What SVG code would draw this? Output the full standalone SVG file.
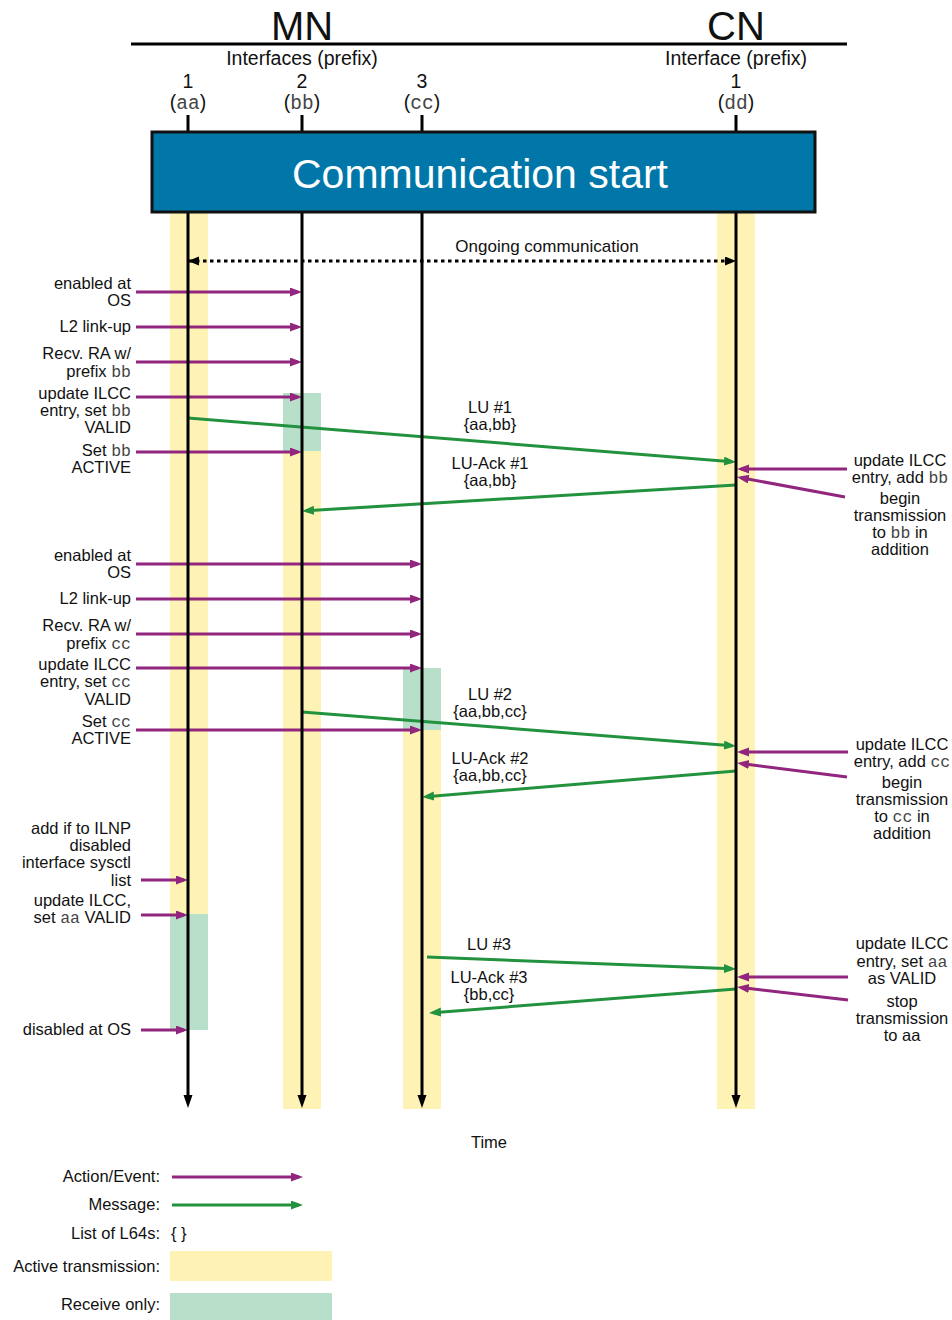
<svg xmlns="http://www.w3.org/2000/svg" width="952" height="1320" viewBox="0 0 952 1320">
  <style>
    .t{font-family:"Liberation Sans",Arial,Helvetica,sans-serif;font-size:16.5px;fill:#111}
    .h{font-size:19.5px}
    .big{font-size:40px}
    .r{text-anchor:end}
    .c{text-anchor:middle}
    .mono{font-family:"Liberation Mono","Courier New",monospace;fill:#444}
    .ev{stroke:#92267f;stroke-width:3;fill:none;marker-end:url(#ahP)}
    .msg{stroke:#22923f;stroke-width:3;fill:none;marker-end:url(#ahG)}
    .life{stroke:#000;stroke-width:3;fill:none;marker-end:url(#ahK)}
    .act{fill:#fef3b4}
    .rcv{fill:#b8dfc9}
  </style>
  <defs>
    <marker id="ahP" markerUnits="userSpaceOnUse" markerWidth="14" markerHeight="10" refX="8" refY="4.5" orient="auto">
      <path d="M0,0 L12,4.5 L0,9 z" fill="#92267f"/>
    </marker>
    <marker id="ahG" markerUnits="userSpaceOnUse" markerWidth="14" markerHeight="10" refX="8" refY="4.5" orient="auto">
      <path d="M0,0 L12,4.5 L0,9 z" fill="#22923f"/>
    </marker>
    <marker id="ahK" markerUnits="userSpaceOnUse" markerWidth="14" markerHeight="10" refX="1" refY="4.5" orient="auto">
      <path d="M0,0 L13,4.5 L0,9 z" fill="#000"/>
    </marker>
    <marker id="ahD" markerUnits="userSpaceOnUse" markerWidth="12" markerHeight="10" refX="10" refY="4.5" orient="auto-start-reverse">
      <path d="M0,0 L11,4.5 L0,9 z" fill="#000"/>
    </marker>
  </defs>

  <rect width="952" height="1320" fill="#fff"/>

  <!-- header: hosts and interfaces -->
  <g id="header">
    <text class="t big c" x="302" y="40">MN</text>
    <text class="t big c" x="736" y="40">CN</text>
    <line x1="131" y1="44" x2="847" y2="44" stroke="#000" stroke-width="3"/>
    <text class="t h c" x="302" y="65">Interfaces (prefix)</text>
    <text class="t h c" x="736" y="65">Interface (prefix)</text>
  </g>

  <!-- activity bands (active transmission / receive only) -->
  <g id="bands">
    <rect class="act" x="170" y="213" width="38" height="701"/>
    <rect class="rcv" x="170" y="914" width="38" height="116"/>
    <rect class="rcv" x="283" y="393" width="38" height="58"/>
    <rect class="act" x="283" y="451" width="38" height="658"/>
    <rect class="rcv" x="403" y="668" width="38" height="62"/>
    <rect class="act" x="403" y="730" width="38" height="379"/>
    <rect class="act" x="717" y="213" width="38" height="896"/>
  </g>

  <!-- connectors -->
  <g id="connectors">
    <line x1="189" y1="261" x2="735" y2="261" stroke="#000" stroke-width="3" stroke-dasharray="3.5 3.5" marker-start="url(#ahD)" marker-end="url(#ahD)"/>

    <!-- events on interface bb -->
    <line class="ev" x1="136" y1="292" x2="298" y2="292"/>
    <line class="ev" x1="136" y1="327" x2="298" y2="327"/>
    <line class="ev" x1="136" y1="362" x2="298" y2="362"/>
    <line class="ev" x1="136" y1="397" x2="298" y2="397"/>
    <line class="ev" x1="136" y1="452" x2="298" y2="452"/>

    <line class="msg" x1="188" y1="418" x2="732" y2="461.7"/>
    <line class="msg" x1="736" y1="485" x2="306" y2="510.8"/>
    <line class="ev" x1="847" y1="469" x2="741" y2="469"/>
    <line class="ev" x1="845" y1="497" x2="740.9" y2="477.7"/>

    <!-- events on interface cc -->
    <line class="ev" x1="136" y1="564" x2="418" y2="564"/>
    <line class="ev" x1="136" y1="599" x2="418" y2="599"/>
    <line class="ev" x1="136" y1="634" x2="418" y2="634"/>
    <line class="ev" x1="136" y1="668" x2="418" y2="668"/>
    <line class="ev" x1="136" y1="730" x2="418" y2="730"/>

    <line class="msg" x1="302" y1="712" x2="732" y2="745.7"/>
    <line class="msg" x1="736" y1="771" x2="426" y2="796.7"/>
    <line class="ev" x1="848" y1="752" x2="741" y2="752"/>
    <line class="ev" x1="847" y1="777" x2="741" y2="763.5"/>

    <!-- events on interface aa -->
    <line class="ev" x1="141" y1="880" x2="184" y2="880"/>
    <line class="ev" x1="141" y1="915" x2="184" y2="915"/>
    <line class="ev" x1="141" y1="1030" x2="184" y2="1030"/>

    <line class="msg" x1="427" y1="957" x2="732" y2="968.8"/>
    <line class="msg" x1="736" y1="989" x2="433" y2="1012.7"/>
    <line class="ev" x1="848" y1="977" x2="741" y2="977"/>
    <line class="ev" x1="848" y1="1000" x2="741" y2="987.5"/>
  </g>

  <!-- lifelines -->
  <g id="if-aa">
    <text class="t h c" x="188" y="88">1</text>
    <text class="t h c" x="188" y="109">(<tspan class="mono">aa</tspan>)</text>
    <line class="life" x1="188" y1="115" x2="188" y2="1096"/>
  </g>
  <g id="if-bb">
    <text class="t h c" x="302" y="88">2</text>
    <text class="t h c" x="302" y="109">(<tspan class="mono">bb</tspan>)</text>
    <line class="life" x1="302" y1="115" x2="302" y2="1096"/>
  </g>
  <g id="if-cc">
    <text class="t h c" x="422" y="88">3</text>
    <text class="t h c" x="422" y="109">(<tspan class="mono">cc</tspan>)</text>
    <line class="life" x1="422" y1="115" x2="422" y2="1096"/>
  </g>
  <g id="if-dd">
    <text class="t h c" x="736" y="88">1</text>
    <text class="t h c" x="736" y="109">(<tspan class="mono">dd</tspan>)</text>
    <line class="life" x1="736" y1="115" x2="736" y2="1096"/>
  </g>

  <!-- start box -->
  <g id="start">
    <rect x="152" y="132" width="663" height="80" fill="#0077a8" stroke="#111" stroke-width="3"/>
    <text class="t c" x="480" y="188" style="font-size:41px;fill:#fff">Communication start</text>
  </g>

  <!-- message labels -->
  <g id="msg-labels">
    <text class="t c" x="547" y="252" style="font-size:17px">Ongoing communication</text>
    <text class="t c" x="490" y="413">LU #1</text>
    <text class="t c" x="490" y="430">{aa,bb}</text>
    <text class="t c" x="490" y="469">LU-Ack #1</text>
    <text class="t c" x="490" y="486">{aa,bb}</text>
    <text class="t c" x="490" y="700">LU #2</text>
    <text class="t c" x="490" y="717">{aa,bb,cc}</text>
    <text class="t c" x="490" y="764">LU-Ack #2</text>
    <text class="t c" x="490" y="781">{aa,bb,cc}</text>
    <text class="t c" x="489" y="950">LU #3</text>
    <text class="t c" x="489" y="983">LU-Ack #3</text>
    <text class="t c" x="489" y="1000">{bb,cc}</text>
  </g>

  <!-- MN side event notes -->
  <g id="mn-events-bb">
    <text class="t r" x="131" y="289">enabled at</text>
    <text class="t r" x="131" y="306">OS</text>
    <text class="t r" x="131" y="332">L2 link-up</text>
    <text class="t r" x="131" y="359">Recv. RA w/</text>
    <text class="t r" x="131" y="377">prefix <tspan class="mono">bb</tspan></text>
    <text class="t r" x="131" y="399">update ILCC</text>
    <text class="t r" x="131" y="416">entry, set <tspan class="mono">bb</tspan></text>
    <text class="t r" x="131" y="433">VALID</text>
    <text class="t r" x="131" y="456">Set <tspan class="mono">bb</tspan></text>
    <text class="t r" x="131" y="473">ACTIVE</text>
  </g>
  <g id="mn-events-cc">
    <text class="t r" x="131" y="561">enabled at</text>
    <text class="t r" x="131" y="578">OS</text>
    <text class="t r" x="131" y="604">L2 link-up</text>
    <text class="t r" x="131" y="631">Recv. RA w/</text>
    <text class="t r" x="131" y="649">prefix <tspan class="mono">cc</tspan></text>
    <text class="t r" x="131" y="670">update ILCC</text>
    <text class="t r" x="131" y="687">entry, set <tspan class="mono">cc</tspan></text>
    <text class="t r" x="131" y="705">VALID</text>
    <text class="t r" x="131" y="727">Set <tspan class="mono">cc</tspan></text>
    <text class="t r" x="131" y="744">ACTIVE</text>
  </g>
  <g id="mn-events-aa">
    <text class="t r" x="131" y="834">add if to ILNP</text>
    <text class="t r" x="131" y="851">disabled</text>
    <text class="t r" x="131" y="868">interface sysctl</text>
    <text class="t r" x="131" y="886">list</text>
    <text class="t r" x="131" y="906">update ILCC,</text>
    <text class="t r" x="131" y="923">set <tspan class="mono">aa</tspan> VALID</text>
    <text class="t r" x="131" y="1035">disabled at OS</text>
  </g>

  <!-- CN side event notes -->
  <g id="cn-events-1">
    <text class="t c" x="900" y="466">update ILCC</text>
    <text class="t c" x="900" y="483">entry, add <tspan class="mono">bb</tspan></text>
    <text class="t c" x="900" y="504">begin</text>
    <text class="t c" x="900" y="521">transmission</text>
    <text class="t c" x="900" y="538">to <tspan class="mono">bb</tspan> in</text>
    <text class="t c" x="900" y="555">addition</text>
  </g>
  <g id="cn-events-2">
    <text class="t c" x="902" y="750">update ILCC</text>
    <text class="t c" x="902" y="767">entry, add <tspan class="mono">cc</tspan></text>
    <text class="t c" x="902" y="788">begin</text>
    <text class="t c" x="902" y="805">transmission</text>
    <text class="t c" x="902" y="822">to <tspan class="mono">cc</tspan> in</text>
    <text class="t c" x="902" y="839">addition</text>
  </g>
  <g id="cn-events-3">
    <text class="t c" x="902" y="949">update ILCC</text>
    <text class="t c" x="902" y="967">entry, set <tspan class="mono">aa</tspan></text>
    <text class="t c" x="902" y="984">as VALID</text>
    <text class="t c" x="902" y="1007">stop</text>
    <text class="t c" x="902" y="1024">transmission</text>
    <text class="t c" x="902" y="1041">to aa</text>
  </g>

  <text class="t c" x="489" y="1148">Time</text>

  <!-- legend -->
  <g id="legend">
    <text class="t r" x="160" y="1182">Action/Event:</text>
    <line class="ev" x1="172" y1="1177" x2="299" y2="1177"/>
    <text class="t r" x="160" y="1210">Message:</text>
    <line class="msg" x1="172" y1="1205" x2="299" y2="1205"/>
    <text class="t r" x="160" y="1239">List of L64s:</text>
    <text class="t" x="171" y="1239">{ }</text>
    <text class="t r" x="160" y="1272">Active transmission:</text>
    <rect class="act" x="170" y="1251" width="162" height="30"/>
    <text class="t r" x="160" y="1310">Receive only:</text>
    <rect class="rcv" x="170" y="1293" width="162" height="27"/>
  </g>
</svg>
